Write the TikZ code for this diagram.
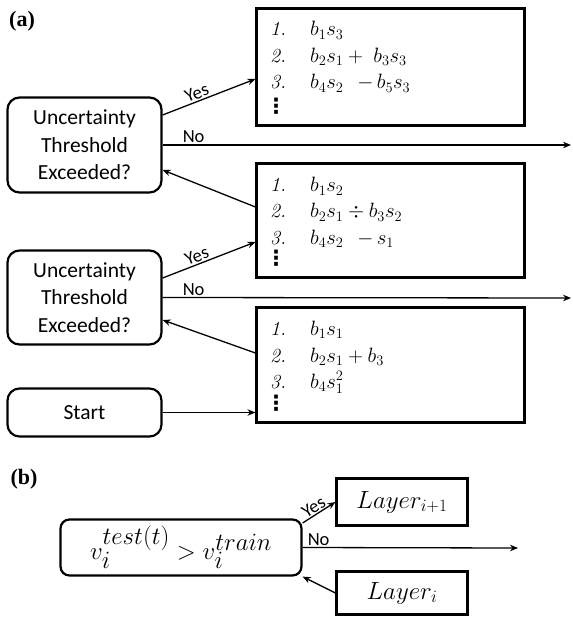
\documentclass[tikz,border=0pt]{standalone}
\usepackage{fontspec}
\newfontfamily\sansf{Carlito}
\newfontfamily\serifb{Liberation Serif}
\newfontfamily\dejav{DejaVu Sans}
\usetikzlibrary{arrows.meta}
\begin{document}
\begin{tikzpicture}[x=1pt,y=-1pt,
  dec/.style={draw, line width=2.2pt, rounded corners=12pt, inner sep=0pt},
  lbox/.style={draw, line width=2.2pt, inner sep=0pt},
  conn/.style={line width=1.3pt, -{Stealth[length=8pt,width=6.5pt]}},
  lab/.style={font=\sansf\fontsize{18.5}{21}\selectfont, inner sep=1.5pt},
  dtext/.style={font=\sansf\fontsize{21.5}{27.5}\selectfont, align=center},
  inum/.style={anchor=base west, inner sep=0pt, font=\fontsize{20}{24}\selectfont},
  itm/.style={anchor=base west, inner sep=0pt, font=\fontsize{22}{26}\selectfont},
  dts/.style={inner sep=0pt, font=\dejav\bfseries\fontsize{21}{24}\selectfont},
  plab/.style={font=\serifb\bfseries\fontsize{22}{26}\selectfont, inner sep=0pt},
]
\useasboundingbox (0,0) rectangle (572,617);

% panel labels
\node[plab] (pa) at (22,21) {(a)};
\node[plab] (pb) at (24,479) {(b)};

% decision boxes and start
\node[dec, dtext, minimum width=154pt, minimum height=95pt] (d1) at (84.5,145) {Uncertainty\\Threshold\\Exceeded?};
\node[dec, dtext, minimum width=154pt, minimum height=94pt] (d2) at (84.5,297.5) {Uncertainty\\Threshold\\Exceeded?};
\node[dec, dtext, minimum width=154pt, minimum height=48pt] (st) at (84.5,412.5) {Start};

% list boxes
\node[lbox, minimum width=268pt, minimum height=117pt] (b1) at (390.5,67) {};
\node[lbox, minimum width=268pt, minimum height=114pt] (b2) at (390.5,220.5) {};
\node[lbox, minimum width=268pt, minimum height=115pt] (b3) at (390.5,365) {};

% box 1 items
\node[inum] (b1n1) at (270,36) {\textit{1.}};
\node[itm] (b1e1) at (310,36) {$b_1s_3$};
\node[inum] (b1n2) at (270,62.5) {\textit{2.}};
\node[itm] (b1e2) at (310,62.5) {$b_2s_1+\;b_3s_3$};
\node[inum] (b1n3) at (270,89) {\textit{3.}};
\node[itm] (b1e3) at (310,89) {$b_4s_2\mkern12mu{-}\,b_5s_3$};
\node[dts] (b1d) at (276,106) {⋮};

% box 2 items
\node[inum] (b2n1) at (270,192) {\textit{1.}};
\node[itm] (b2e1) at (310,192) {$b_1s_2$};
\node[inum] (b2n2) at (270,218) {\textit{2.}};
\node[itm] (b2e2) at (310,218) {$b_2s_1\div b_3s_2$};
\node[inum] (b2n3) at (270,244) {\textit{3.}};
\node[itm] (b2e3) at (310,244) {$b_4s_2\mkern12mu{-}\,s_1$};
\node[dts] (b2d) at (276,258) {⋮};

% box 3 items
\node[inum] (b3n1) at (270,335) {\textit{1.}};
\node[itm] (b3e1) at (310,335) {$b_1s_1$};
\node[inum] (b3n2) at (270,362) {\textit{2.}};
\node[itm] (b3e2) at (310,362) {$b_2s_1+b_3$};
\node[inum] (b3n3) at (270,388) {\textit{3.}};
\node[itm] (b3e3) at (310,388) {$b_4s_1^2$};
\node[dts] (b3d) at (276,403) {⋮};

% free ends
\coordinate (ra) at (571,145);
\coordinate (rb) at (571,298);

% connectors panel (a)
\draw[conn] ([yshift=30pt]d1.east) -- node[lab, above, sloped, pos=0.4]{Yes} ([yshift=-12pt]b1.west);
\draw[conn] (d1.east) -- node[lab, anchor=south west, pos=0, xshift=18pt]{No} (ra);
\draw[conn] ([yshift=13.5pt]b2.west) -- ([yshift=-25pt]d1.east);
\draw[conn] ([yshift=19.5pt]d2.east) -- node[lab, above, sloped, pos=0.4]{Yes} ([yshift=-21.5pt]b2.west);
\draw[conn] (d2.east) -- node[lab, anchor=south west, pos=0, xshift=18pt]{No} (rb);
\draw[conn] ([yshift=12pt]b3.west) -- ([yshift=-22.5pt]d2.east);
\draw[conn] (st.east) -- (st.east -| b3.west);

% panel (b)
\node[dec, rounded corners=9pt, minimum width=241pt, minimum height=56pt, font=\fontsize{34}{38}\selectfont] (bv) at (181,547.5) {$v_i^{test(t)}>v_i^{train}$};
\node[lbox, minimum width=131pt, minimum height=47pt, font=\fontsize{27}{30}\selectfont] (L1) at (402,502) {$Layer_{i+1}$};
\node[lbox, minimum width=131pt, minimum height=43pt, font=\fontsize{27}{30}\selectfont] (L0) at (402,593) {$Layer_{i}$};
\coordinate (rc) at (518,548);

\draw[conn] ([yshift=24.5pt]bv.east) -- node[lab, above, sloped, pos=0.45, inner sep=0.5pt]{Yes} (L1.west);
\draw[conn] (bv.east) -- node[lab, anchor=south west, pos=0, xshift=3pt]{No} (rc);
\draw[conn] (L0.west) -- (bv.south east);
\end{tikzpicture}
\end{document}
